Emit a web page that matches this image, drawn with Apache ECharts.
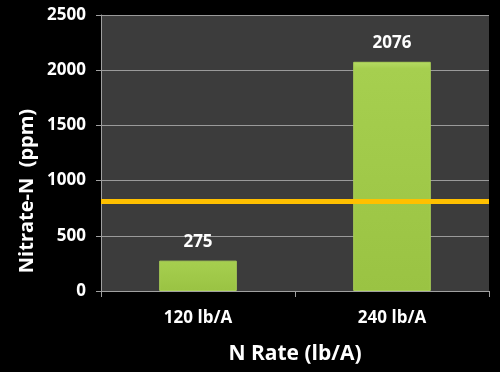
<!DOCTYPE html>
<html><head><meta charset="utf-8">
<script src="https://cdn.jsdelivr.net/npm/echarts@6/dist/echarts.min.js"></script>
<style>html,body{margin:0;padding:0;background:#000;}#c{width:500px;height:372px;}</style>
</head><body><div id="c"></div>
<script>
const categories = ['120 lb/A', '240 lb/A'];
const nitrateValues = [275, 2076];
const thresholdValue = [815];
const yTicks = [0, 500, 1000, 1500, 2000, 2500];
const yTitle = 'Nitrate-N  (ppm)';
const xTitle = 'N Rate (lb/A)';

const chart = echarts.init(document.getElementById('c'));
const font = '"Open Sans", Lato, sans-serif';
chart.setOption({
  backgroundColor: '#000',
  animation: false,
  grid: { left: 101, right: 11, top: 15, bottom: 81, backgroundColor: '#3c3c3c', show: true, borderWidth: 0 },
  graphic: [{
    type: 'text', x: 27, y: 191, rotation: Math.PI / 2,
    style: { text: yTitle, fill: '#fff', font: 'bold 20px ' + font, textAlign: 'center', textVerticalAlign: 'middle' }
  }],
  xAxis: {
    type: 'category', data: categories,
    name: xTitle, nameLocation: 'middle', nameGap: 53,
    nameTextStyle: { color: '#fff', fontSize: 21, fontWeight: 'bold', fontFamily: font },
    axisLine: { lineStyle: { color: '#a0a0a0', width: 1 } },
    axisTick: { show: true, length: 6, lineStyle: { color: '#a0a0a0' } },
    axisLabel: { color: '#fff', fontSize: 17, fontWeight: 'bold', fontFamily: font, margin: 19 }
  },
  yAxis: {
    type: 'value', min: yTicks[0], max: yTicks[yTicks.length - 1], interval: 500,
    axisLine: { show: true, lineStyle: { color: '#a0a0a0' } },
    axisTick: { show: true, length: 5, lineStyle: { color: '#a0a0a0' } },
    axisLabel: { color: '#fff', fontSize: 17, fontWeight: 'bold', fontFamily: font, margin: 15, formatter: v => String(v) },
    splitLine: { lineStyle: { color: '#9a9a9a', width: 1 } }
  },
  series: [{
    type: 'bar', data: nitrateValues, barWidth: '40%',
    itemStyle: {
      color: new echarts.graphic.LinearGradient(0, 0, 0, 1, [
        { offset: 0, color: '#b6dc64' },
        { offset: 0.03, color: '#a6cf4f' },
        { offset: 1, color: '#9ac343' }
      ]),
      borderColor: '#a9cf57', borderWidth: 1
    },
    label: { show: true, position: 'top', distance: 10, color: '#fff', fontSize: 17, fontWeight: 'bold', fontFamily: font },
    markLine: {
      symbol: 'none', silent: true,
      label: { show: false },
      lineStyle: { color: '#ffc000', width: 5, type: 'solid' },
      data: thresholdValue.map(v => ({ yAxis: v }))
    }
  }]
});
</script></body></html>
